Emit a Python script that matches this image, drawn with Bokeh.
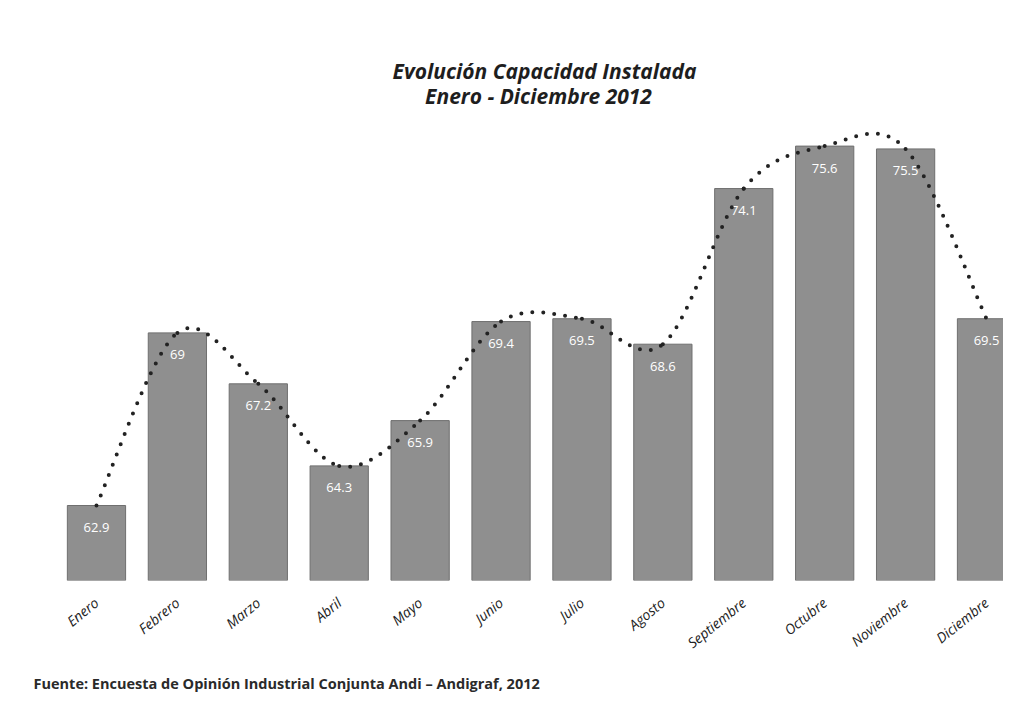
from bokeh.plotting import figure
from bokeh.models import Range1d, Label, Title, FixedTicker, ColumnDataSource
from bokeh.core.properties import value
from bokeh.embed import file_html
from bokeh.resources import INLINE

months = ["Enero", "Febrero", "Marzo", "Abril", "Mayo", "Junio", "Julio",
          "Agosto", "Septiembre", "Octubre", "Noviembre", "Diciembre"]
capacity = [62.9, 69.0, 67.2, 64.3, 65.9, 69.4, 69.5, 68.6, 74.1, 75.6, 75.5, 69.5]

title_line1 = "Evolución Capacidad Instalada"
title_line2 = "Enero - Diciembre 2012"
source_note = "Fuente: Encuesta de Opinión Industrial Conjunta Andi – Andigraf, 2012"

y_floor = 60.25
xs = list(range(len(months)))

p = figure(width=1003, height=701, output_backend="svg", toolbar_location=None,
           x_range=Range1d(-0.593, 11.21), y_range=Range1d(y_floor, 80.745),
           min_border_left=48, min_border_right=0, min_border_top=0,
           min_border_bottom=121)
p.outline_line_color = None
p.xgrid.visible = False
p.ygrid.visible = False
p.yaxis.visible = False

bar_src = ColumnDataSource(dict(x=xs, top=capacity,
                                lbl=[f"{v:g}" for v in capacity]))
p.vbar(x="x", top="top", bottom=y_floor, width=0.72, source=bar_src,
       fill_color="#8f8f8f", line_color="#6f6f6f", line_width=1)

p.text(x="x", y="top", text="lbl", source=bar_src, text_color="white",
       text_font=value("Open Sans"), text_font_size="13px", text_align="center",
       text_baseline="middle", y_offset=22)

# smoothed (Excel-style Catmull-Rom) dotted line through the bar tops
n = len(capacity)
x0, y0, x1, y1, cx0, cy0, cx1, cy1 = [], [], [], [], [], [], [], []
for i in range(n - 1):
    ip = max(i - 1, 0)
    inx = min(i + 2, n - 1)
    x0.append(xs[i]); y0.append(capacity[i])
    x1.append(xs[i + 1]); y1.append(capacity[i + 1])
    cx0.append(xs[i] + (xs[i + 1] - xs[ip]) / 6)
    cy0.append(capacity[i] + (capacity[i + 1] - capacity[ip]) / 6)
    cx1.append(xs[i + 1] - (xs[inx] - xs[i]) / 6)
    cy1.append(capacity[i + 1] - (capacity[inx] - capacity[i]) / 6)
p.bezier(x0=x0, y0=y0, x1=x1, y1=y1, cx0=cx0, cy0=cy0, cx1=cx1, cy1=cy1,
         line_color="#222222", line_width=4, line_dash="0 11", line_cap="round")

ax = p.xaxis[0]
ax.ticker = FixedTicker(ticks=xs)
ax.major_label_overrides = {i: m for i, m in enumerate(months)}
ax.major_label_orientation = 0.68
ax.axis_line_color = None
ax.major_tick_line_color = None
ax.minor_tick_line_color = None
ax.major_label_text_font = "Open Sans"
ax.major_label_text_font_style = "italic"
ax.major_label_text_font_size = "14px"
ax.major_label_text_color = "#222222"
ax.major_label_standoff = 14

title_style = dict(x_units="screen", y_units="screen", text_font="Open Sans",
                   text_font_style="bold italic", text_font_size="21px",
                   text_color="#1e1e1e", text_align="center",
                   text_baseline="middle")
p.add_layout(Label(x=496, y=510, text=title_line1, **title_style))
p.add_layout(Label(x=490, y=485, text=title_line2, **title_style))

p.add_layout(Title(text=source_note, align="left", text_font="Open Sans",
                   text_font_style="bold", text_font_size="14.5px",
                   text_color="#2a2a2a", standoff=18, offset=-15), "below")

open("out.html", "w").write(file_html(p, INLINE))
